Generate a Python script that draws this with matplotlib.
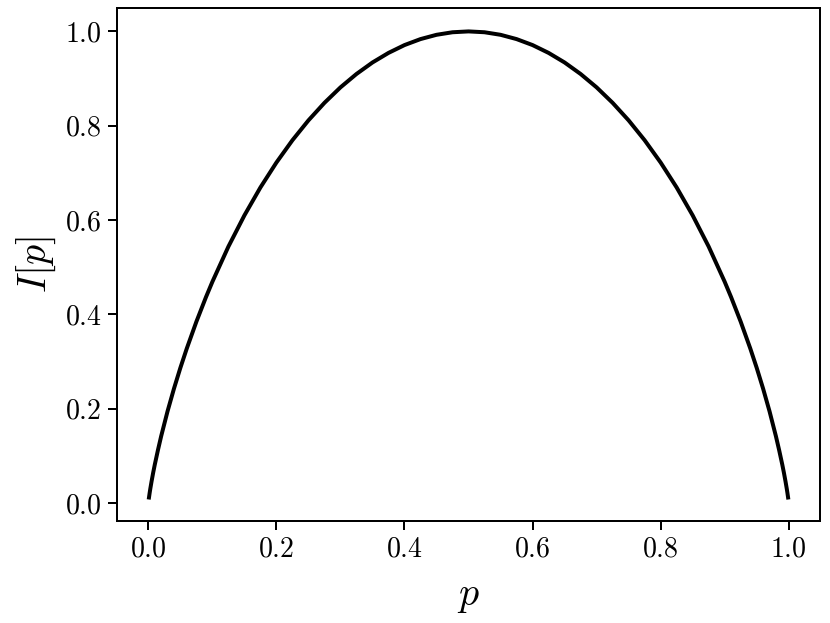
import matplotlib
matplotlib.use("Agg")
import matplotlib.pyplot as plt

plt.rcParams['font.family'] = 'serif'
plt.rcParams['font.serif'] = ['cmr10']
plt.rcParams['mathtext.fontset'] = 'cm'
plt.rcParams['axes.formatter.use_mathtext'] = True

# values
p = [0.001, 0.002, 0.003, 0.005, 0.0075, 0.01, 0.015, 0.02, 0.03, 0.04, 0.05,
     0.06, 0.075, 0.09, 0.1, 0.125, 0.15, 0.175, 0.2, 0.225, 0.25, 0.275,
     0.3, 0.325, 0.35, 0.375, 0.4, 0.425, 0.45, 0.475, 0.5,
     0.525, 0.55, 0.575, 0.6, 0.625, 0.65, 0.675, 0.7, 0.725, 0.75,
     0.775, 0.8, 0.825, 0.85, 0.875, 0.9, 0.91, 0.925, 0.94, 0.95, 0.96,
     0.97, 0.98, 0.985, 0.99, 0.9925, 0.995, 0.997, 0.998, 0.999]
info = [0.0114, 0.0208, 0.0295, 0.0454, 0.0638, 0.0808, 0.1121, 0.1414,
        0.1944, 0.2423, 0.2864, 0.3274, 0.3843, 0.4365, 0.4690, 0.5436,
        0.6098, 0.6690, 0.7219, 0.7692, 0.8113, 0.8485, 0.8813, 0.9097,
        0.9341, 0.9544, 0.9710, 0.9837, 0.9928, 0.9982, 1.0,
        0.9982, 0.9928, 0.9837, 0.9710, 0.9544, 0.9341, 0.9097, 0.8813,
        0.8485, 0.8113, 0.7692, 0.7219, 0.6690, 0.6098, 0.5436, 0.4690,
        0.4365, 0.3843, 0.3274, 0.2864, 0.2423, 0.1944, 0.1414, 0.1121,
        0.0808, 0.0638, 0.0454, 0.0295, 0.0208, 0.0114]

fig = plt.figure(figsize=(830 / 130, 623 / 130), dpi=130)
ax = fig.add_axes([0.141, 0.164, 0.847, 0.823])
ax.plot(p, info, color='k', lw=2.2)

ax.set_xlabel(r'$p$', fontsize=22, labelpad=9)
ax.set_ylabel(r'$I[p]$', fontsize=22)
ax.tick_params(labelsize=15.5, length=5, width=1.1)
for s in ax.spines.values():
    s.set_linewidth(1.1)

fig.savefig('out.png', dpi=130)
